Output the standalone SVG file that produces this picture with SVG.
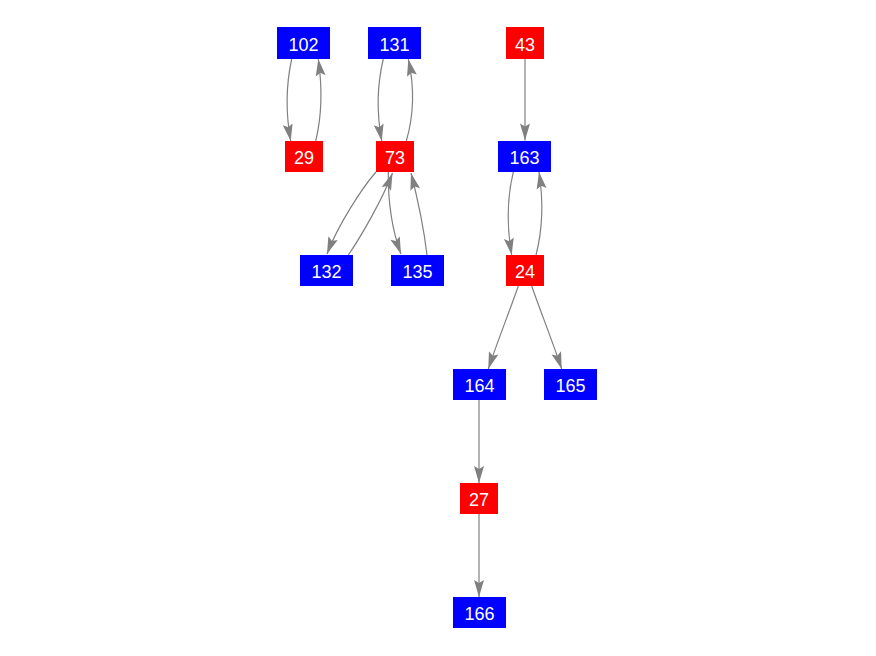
<svg xmlns="http://www.w3.org/2000/svg" width="876" height="656" viewBox="0 0 876 656">
<style>
.b{fill:#0000ff}
.r{fill:#ff0000}
text{fill:#ffffff;font-family:"Liberation Sans",Arial,sans-serif;font-size:18px;text-anchor:middle}
.e{fill:none;stroke:#808080;stroke-width:1.2;marker-end:url(#ah)}
</style>
<defs>
<marker id="ah" viewBox="-18 -6 18 12" markerWidth="18" markerHeight="12" refX="0" refY="0" orient="auto" markerUnits="userSpaceOnUse">
<path d="M0,0 L-17,-5 L-14,0 L-17,5 Z" fill="#808080"/>
</marker>
</defs>
<rect width="876" height="656" fill="#ffffff"/>
<g id="edges">
<path class="e" d="M291.7,59 C286,85 286,115 290.7,141"/>
<path class="e" d="M315.7,141 C322,115 322,85 318.3,59"/>
<path class="e" d="M383.3,59 C377,85 377,115 381.7,141"/>
<path class="e" d="M406.3,141 C414,115 414,85 408.3,59"/>
<path class="e" d="M376,172 C362,188 338,225 327,254"/>
<path class="e" d="M348.3,255 C362,235 382,200 392.5,173"/>
<path class="e" d="M388.3,172 C388,200 392,230 401,254"/>
<path class="e" d="M427,255 C424,230 418,200 411,173"/>
<path class="e" d="M525,59 L525,140.5"/>
<path class="e" d="M513.3,172 C507,198 507,228 511.7,255"/>
<path class="e" d="M536,255 C543,228 543,198 539,172"/>
<path class="e" d="M518.3,286 C510,310 498,340 488.3,369"/>
<path class="e" d="M531.7,286 C540,310 552,340 561.7,369"/>
<path class="e" d="M479,400 L479,483"/>
<path class="e" d="M479,514 L479,597"/>
</g>
<g id="n102"><rect class="b" x="277" y="27" width="53" height="32"/><text x="303.5" y="50.5">102</text></g>
<g id="n131"><rect class="b" x="368" y="27" width="53" height="32"/><text x="394.5" y="50.5">131</text></g>
<g id="n43"><rect class="r" x="506" y="27" width="38" height="32"/><text x="525" y="50.5">43</text></g>
<g id="n29"><rect class="r" x="285" y="141" width="38" height="31"/><text x="304" y="164">29</text></g>
<g id="n73"><rect class="r" x="376" y="141" width="38" height="31"/><text x="395" y="164">73</text></g>
<g id="n163"><rect class="b" x="498" y="141" width="53" height="31"/><text x="524.5" y="164">163</text></g>
<g id="n132"><rect class="b" x="300" y="255" width="53" height="31"/><text x="326.5" y="278">132</text></g>
<g id="n135"><rect class="b" x="391" y="255" width="53" height="31"/><text x="417.5" y="278">135</text></g>
<g id="n24"><rect class="r" x="506" y="255" width="38" height="31"/><text x="525" y="278">24</text></g>
<g id="n164"><rect class="b" x="453" y="369" width="53" height="31"/><text x="479.5" y="392">164</text></g>
<g id="n165"><rect class="b" x="544" y="369" width="53" height="31"/><text x="570.5" y="392">165</text></g>
<g id="n27"><rect class="r" x="460" y="483" width="38" height="31"/><text x="479" y="506">27</text></g>
<g id="n166"><rect class="b" x="453" y="597" width="53" height="31"/><text x="479.5" y="620">166</text></g>
</svg>
